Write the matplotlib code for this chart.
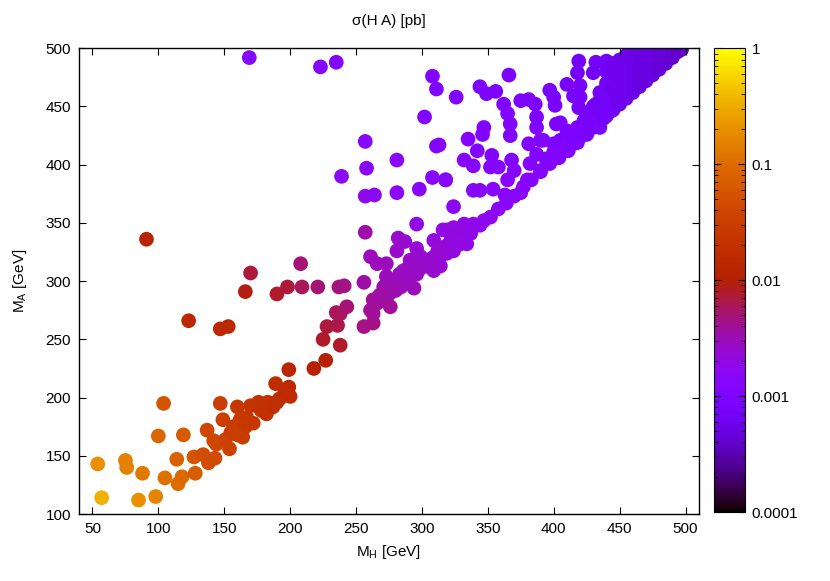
import matplotlib
matplotlib.use("Agg")
import matplotlib.pyplot as plt
from matplotlib.colors import LogNorm
from matplotlib.ticker import FixedLocator, FixedFormatter, LogLocator
import numpy as np

# light region, M_H < 160
low_mh = [54, 57, 75, 76, 88, 85, 98, 100, 104, 105, 114, 115, 118, 119, 127, 128,
          134, 137, 138, 143, 142, 144, 147, 149, 151, 154, 157, 159]
low_ma = [143, 114, 146, 140, 135, 112, 115, 167, 195, 131, 147, 126, 132, 168, 149, 135,
          151, 172, 144, 148, 163, 160, 195, 181, 164, 156, 175, 172]
low_sig = [0.2, 0.35, 0.15, 0.15, 0.13, 0.2, 0.16, 0.09, 0.06, 0.11, 0.08, 0.1, 0.09, 0.065, 0.06, 0.07,
           0.05, 0.04, 0.05, 0.045, 0.04, 0.042, 0.03, 0.032, 0.035, 0.035, 0.03, 0.03]

# band 160-250
band1_mh = [160, 162, 164, 172, 176, 183, 182, 189, 190, 192, 185, 170, 167, 199, 200, 196,
            199, 218, 227, 225, 228, 236, 238, 238, 243, 235, 178, 187, 166, 155, 160]
band1_ma = [192, 181, 166, 178, 196, 196, 186, 212, 196, 199, 195, 193, 183, 209, 201, 205,
            224, 225, 232, 250, 261, 262, 245, 272, 278, 273, 189, 192, 175, 170, 168]
band1_sig = [0.025, 0.028, 0.03, 0.025, 0.02, 0.02, 0.022, 0.017, 0.018, 0.018, 0.02, 0.022, 0.025,
             0.015, 0.016, 0.016, 0.013, 0.011, 0.01, 0.008, 0.007, 0.0065, 0.008, 0.0055, 0.005,
             0.006, 0.021, 0.019, 0.026, 0.03, 0.03]

# isolated points above the band
off_mh = [91, 123, 147, 153, 166, 170, 190, 198, 208, 209, 221, 237, 241, 169, 223, 235,
          239, 257, 258, 257, 264, 281, 281, 298, 308, 318, 311, 302, 308, 311, 326, 257,
          296, 324, 313]
off_ma = [336, 266, 259, 261, 291, 307, 289, 295, 315, 295, 295, 295, 296, 492, 484, 488,
          390, 420, 397, 373, 374, 404, 376, 379, 389, 387, 416, 441, 476, 465, 458, 342,
          349, 364, 417]
off_sig = [0.012, 0.015, 0.014, 0.014, 0.009, 0.007, 0.008, 0.007, 0.005, 0.006, 0.005, 0.005,
           0.0045, 0.0012, 0.0012, 0.0011, 0.0016, 0.0013, 0.0015, 0.0017, 0.0016, 0.0013,
           0.0015, 0.0014, 0.0013, 0.0013, 0.0012, 0.0011, 0.001, 0.001, 0.001, 0.0035,
           0.002, 0.0015, 0.0012]

# band 250-330
band2_mh = [261, 256, 266, 273, 273, 271, 284, 294, 261, 263, 256, 263, 273, 276, 266, 263,
            282, 287, 281, 296, 309, 316, 291, 301, 286, 296, 306, 299, 309, 314, 319, 324,
            314, 329, 334, 319, 324, 283, 279,
            288, 292, 298, 303, 308, 312, 318, 322, 327, 280, 276, 268, 290]
band2_ma = [321, 299, 315, 315, 304, 295, 295, 294, 275, 284, 261, 264, 285, 278, 281, 272,
            337, 334, 326, 328, 335, 344, 318, 318, 309, 306, 312, 321, 309, 313, 324, 326,
            321, 338, 332, 344, 346, 306, 300,
            300, 305, 310, 316, 320, 326, 330, 335, 340, 292, 290, 288, 312]
band2_sig = [0.003, 0.0035, 0.003, 0.003, 0.003, 0.0033, 0.003, 0.003, 0.004, 0.004, 0.0045,
             0.0045, 0.0038, 0.0038, 0.0038, 0.004, 0.0025, 0.0025, 0.0026, 0.0024, 0.0022,
             0.002, 0.0026, 0.0025, 0.0028, 0.0028, 0.0025, 0.0025, 0.0025, 0.0024, 0.0022,
             0.0022, 0.0023, 0.002, 0.002, 0.002, 0.002, 0.0028, 0.003,
             0.0029, 0.0028, 0.0027, 0.0026, 0.0025, 0.0024, 0.0023, 0.0022, 0.0021, 0.0032,
             0.0033, 0.0036, 0.0027]

# band 330-420
band3_mh = [329, 337, 344, 352, 358, 364, 370, 377, 383, 390, 397, 404, 411, 418, 332, 339,
            347, 318, 339, 344, 354, 363, 365, 370, 375, 380, 382, 390, 396, 387, 381, 390,
            400, 408, 332, 339, 353, 352, 358, 368, 335, 342, 346, 347, 367, 367, 365, 362,
            344, 349, 356, 366, 375, 381, 386, 387, 387, 392, 402, 405, 410, 405, 415, 397,
            400, 401, 410,
            405, 410, 415, 420, 422, 412, 418, 423, 428, 394, 400]
band3_ma = [332, 341, 348, 355, 362, 367, 373, 381, 387, 394, 401, 406, 412, 419, 349, 349,
            352, 387, 378, 378, 379, 374, 387, 395, 376, 387, 401, 395, 402, 409, 418, 421,
            418, 418, 404, 399, 408, 398, 398, 404, 422, 412, 426, 432, 425, 435, 444, 452,
            467, 461, 463, 477, 455, 456, 452, 441, 432, 421, 435, 436, 429, 421, 421, 464,
            458, 451, 469,
            410, 416, 418, 424, 430, 425, 432, 438, 445, 405, 411]
band3_sig = [0.002, 0.0019, 0.0018, 0.0017, 0.0016, 0.0015, 0.0015, 0.0014, 0.0013, 0.0013,
             0.0012, 0.0011, 0.0011, 0.001, 0.0019, 0.0018, 0.0017, 0.0014, 0.0014, 0.0014,
             0.0013, 0.0013, 0.0013, 0.0012, 0.0013, 0.0012, 0.0012, 0.0012, 0.0011, 0.0011,
             0.0011, 0.001, 0.001, 0.001, 0.0012, 0.0012, 0.0011, 0.0012, 0.0012, 0.0011,
             0.0011, 0.0011, 0.001, 0.001, 0.001, 0.001, 0.001, 0.0009, 0.0009, 0.0009,
             0.0009, 0.0009, 0.0009, 0.0009, 0.0009, 0.0009, 0.001, 0.001, 0.0009, 0.0009,
             0.0009, 0.0009, 0.0009, 0.0008, 0.0008, 0.0008, 0.0008,
             0.001, 0.001, 0.0009, 0.0009, 0.0009, 0.0009, 0.0009, 0.0008, 0.0008, 0.0011,
             0.001]

# dense cluster near the top right
top_mh = [419, 418, 432, 440, 430, 420, 420, 415, 419, 425, 425, 435, 435, 446, 448, 456,
          425, 425, 430, 430, 430, 435, 435, 435, 435, 440, 440, 440, 440, 440,
          445, 445, 445, 445, 445, 450, 450, 450, 450, 450, 455, 455, 455, 455, 455,
          460, 460, 460, 460, 460, 465, 465, 465, 465, 470, 470, 470, 470,
          475, 475, 475, 475, 480, 480, 480, 485, 485, 485, 490, 490, 494, 497,
          433, 438, 442, 432, 438]
top_ma = [489, 479, 488, 489, 479, 468, 458, 459, 449, 442, 426, 432, 449, 458, 472, 492,
          427, 435, 432, 440, 450, 437, 443, 455, 462, 442, 450, 460, 470, 480,
          447, 455, 465, 478, 487, 452, 460, 470, 482, 490, 457, 465, 475, 485, 494,
          462, 470, 480, 490, 496, 467, 475, 485, 494, 472, 480, 490, 497,
          477, 485, 493, 498, 482, 490, 497, 487, 494, 499, 492, 497, 497, 499,
          435, 440, 445, 452, 456]
top_sig = [0.0007, 0.0007, 0.0007, 0.0007, 0.0007, 0.0008, 0.0008, 0.0008, 0.0008, 0.0008,
           0.0008, 0.0008, 0.0008, 0.0007, 0.0007, 0.0006,
           0.0008, 0.0008, 0.0008, 0.0008, 0.0008, 0.0007, 0.0007, 0.0007, 0.0007,
           0.0007, 0.0007, 0.0007, 0.0007, 0.0007,
           0.0006, 0.0006, 0.0006, 0.0006, 0.0006, 0.0006, 0.0006, 0.0006, 0.0006, 0.0006,
           0.0006, 0.0006, 0.0006, 0.0006, 0.0006, 0.00055, 0.00055, 0.00055, 0.00055, 0.00055,
           0.0005, 0.0005, 0.0005, 0.0005, 0.0005, 0.0005, 0.0005, 0.0005,
           0.0005, 0.0005, 0.0005, 0.0005, 0.00045, 0.00045, 0.00045, 0.00045, 0.00045, 0.00045,
           0.00042, 0.00042, 0.0004, 0.0004,
           0.0008, 0.0007, 0.0007, 0.0007, 0.0007]

cbar_ticks = [1e-4, 1e-3, 1e-2, 1e-1, 1]
cbar_labels = ["0.0001", "0.001", "0.01", "0.1", "1"]

m_h = np.array(low_mh + band1_mh + off_mh + band2_mh + band3_mh + top_mh)
m_a = np.array(low_ma + band1_ma + off_ma + band2_ma + band3_ma + top_ma)
xsec = np.array(low_sig + band1_sig + off_sig + band2_sig + band3_sig + top_sig)

plt.rcParams['font.family'] = ['Liberation Sans', 'DejaVu Sans']
plt.rcParams['mathtext.fontset'] = 'custom'
plt.rcParams['mathtext.rm'] = 'Liberation Sans'
plt.rcParams['mathtext.it'] = 'Liberation Sans'

fig = plt.figure(figsize=(8.3, 5.81), dpi=100)
ax = fig.add_axes([0.0955, 0.1153, 0.7463, 0.8016])

sc = ax.scatter(m_h, m_a, c=xsec, cmap='gnuplot', norm=LogNorm(vmin=1e-4, vmax=1),
                s=112, linewidths=0)

ax.set_xlim(40, 510)
ax.set_ylim(100, 500)
ax.set_xticks(np.arange(50, 501, 50))
ax.set_yticks(np.arange(100, 501, 50))
ax.tick_params(direction='in', top=True, right=True, length=5, width=0.8, labelsize=11, pad=6)
for sp in ax.spines.values():
    sp.set_linewidth(1.0)

ax.set_xlabel(r'M$_\mathrm{H}$ [GeV]', fontsize=11, labelpad=5)
ax.set_ylabel(r'M$_\mathrm{A}$ [GeV]', fontsize=11, labelpad=12)
ax.set_title('σ(H A) [pb]', fontsize=11, pad=17)

cax = fig.add_axes([0.860, 1 - 512 / 581, 0.0373, (512 - 48.3) / 581])
cb = fig.colorbar(sc, cax=cax)
cb.outline.set_linewidth(0.8)
cax.yaxis.set_major_locator(FixedLocator(cbar_ticks))
cax.yaxis.set_major_formatter(FixedFormatter(cbar_labels))
cax.yaxis.set_minor_locator(LogLocator(base=10, subs=np.arange(2, 10)))
cax.tick_params(which='major', direction='in', left=True, right=True, length=5, width=0.8,
                labelsize=11, pad=5)
cax.tick_params(which='minor', direction='in', left=True, right=True, length=3, width=0.6)

fig.savefig('out.png', dpi=100)
